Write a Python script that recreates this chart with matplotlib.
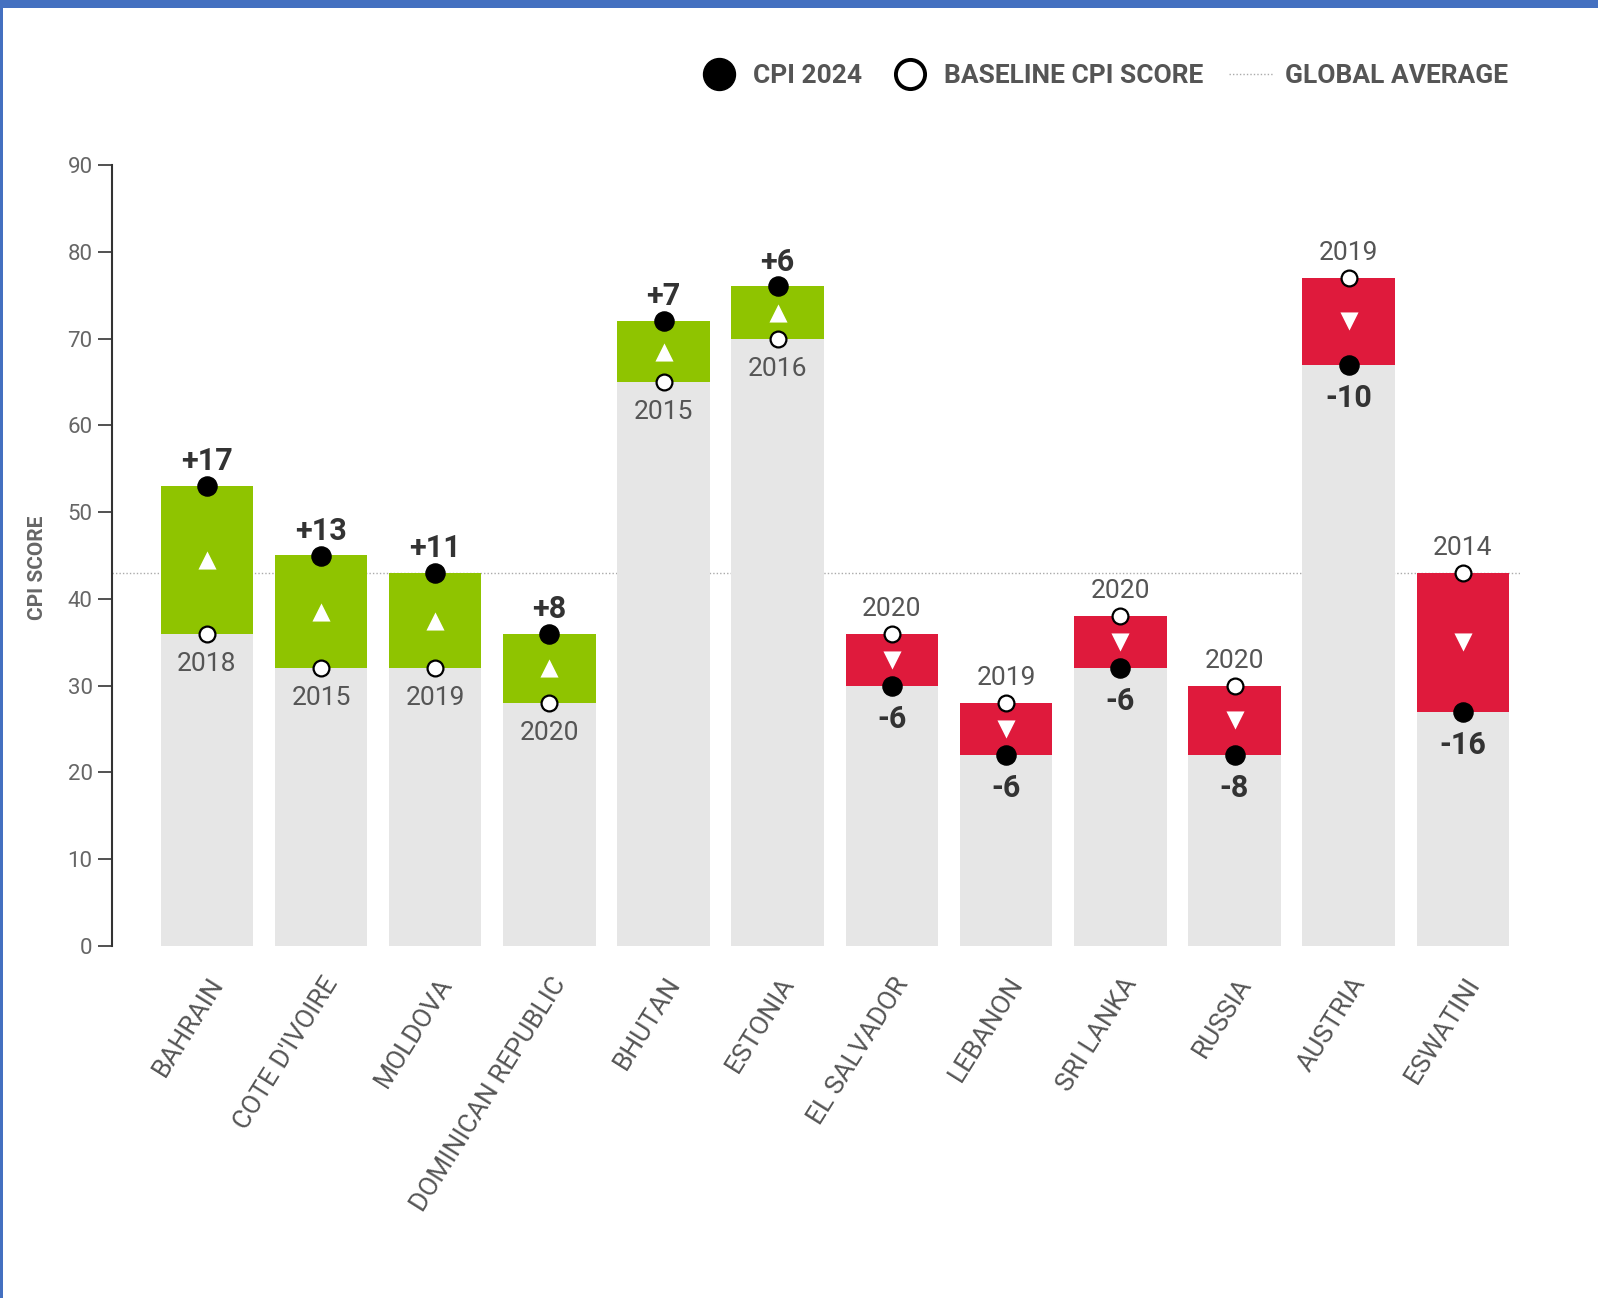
import matplotlib
matplotlib.use("Agg")
import matplotlib.pyplot as plt
from matplotlib.lines import Line2D
from matplotlib.patches import Rectangle
import numpy as np

countries = ["BAHRAIN", "COTE D'IVOIRE", "MOLDOVA", "DOMINICAN REPUBLIC", "BHUTAN", "ESTONIA",
             "EL SALVADOR", "LEBANON", "SRI LANKA", "RUSSIA", "AUSTRIA", "ESWATINI"]
cpi_2024 = [53, 45, 43, 36, 72, 76, 30, 22, 32, 22, 67, 27]
baseline = [36, 32, 32, 28, 65, 70, 36, 28, 38, 30, 77, 43]
baseline_year = ["2018", "2015", "2019", "2020", "2015", "2016",
                 "2020", "2019", "2020", "2020", "2019", "2014"]
global_average = 43
yticks = [0, 10, 20, 30, 40, 50, 60, 70, 80, 90]

GREEN = "#8fc400"
RED = "#df1a3c"
GRAY = "#e6e6e6"
TXT = "#555555"
COND = ["Roboto", "DejaVu Sans"]
NUM = ["Roboto", "DejaVu Sans"]

fig = plt.figure(figsize=(15.98, 12.98), dpi=100)
fig.patches.append(Rectangle((0, 0), 1, 1, transform=fig.transFigure,
                             facecolor="white", edgecolor="none", zorder=-10))
# blue frame (top and left)
fig.patches.append(Rectangle((0, 1 - 8 / 1298), 1, 8 / 1298, transform=fig.transFigure,
                             facecolor="#4470c0", edgecolor="none", zorder=10))
fig.patches.append(Rectangle((0, 0), 3 / 1598, 1, transform=fig.transFigure,
                             facecolor="#4470c0", edgecolor="none", zorder=10))

ax = fig.add_axes([112 / 1598, 1 - 946 / 1298, (1520 - 112) / 1598, (946 - 165) / 1298])
x = np.arange(len(countries))
w = 0.81
lo = np.minimum(cpi_2024, baseline)
hi = np.maximum(cpi_2024, baseline)
diff = np.array(cpi_2024) - np.array(baseline)
colors = [GREEN if d > 0 else RED for d in diff]

ax.bar(x, lo, width=w, color=GRAY, zorder=2)
ax.bar(x, hi - lo, bottom=lo, width=w, color=colors, zorder=2)
ax.axhline(global_average, color="#aaaaaa", lw=1, ls=(0, (1, 1.5)), zorder=1)

mid = (hi + lo) / 2
for i in range(len(x)):
    ax.scatter(x[i], mid[i], marker="^" if diff[i] > 0 else "v", s=170, color="white",
               zorder=4, linewidths=0)
ax.scatter(x, cpi_2024, s=190, color="black", zorder=5)
ax.scatter(x, baseline, s=130, facecolor="white", edgecolor="black", linewidths=1.6, zorder=5)

for i in range(len(x)):
    d = diff[i]
    lbl = f"+{d}" if d > 0 else f"{d}"
    if d > 0:
        ax.annotate(lbl, (x[i], cpi_2024[i]), xytext=(0, 11.5), textcoords="offset points",
                    ha="center", va="baseline", fontsize=22, fontweight="bold",
                    color="#333333", family=NUM, zorder=6)
        ax.annotate(baseline_year[i], (x[i], baseline[i]), xytext=(0, -13), textcoords="offset points",
                    ha="center", va="top", fontsize=19, color=TXT, family=NUM, zorder=6)
    else:
        ax.annotate(lbl, (x[i], cpi_2024[i]), xytext=(0, -13), textcoords="offset points",
                    ha="center", va="top", fontsize=22, fontweight="bold",
                    color="#333333", family=NUM, zorder=6)
        ax.annotate(baseline_year[i], (x[i], baseline[i]), xytext=(0, 13), textcoords="offset points",
                    ha="center", va="baseline", fontsize=19, color=TXT, family=NUM, zorder=6)

ax.set_xlim(-0.83, 11.5)
ax.set_ylim(0, 90)
ax.set_yticks(yticks)
ax.set_yticklabels([str(t) for t in yticks], fontsize=16, color="#666666", family=NUM)
ax.tick_params(axis="y", length=10, width=1.2, color="#333333", pad=4)
for s in ["top", "right", "bottom"]:
    ax.spines[s].set_visible(False)
ax.spines["left"].set_color("#333333")
ax.spines["left"].set_linewidth(1.5)
ax.set_xticks(x + 0.1)
ax.set_xticklabels(countries, rotation=58, ha="right", va="center", rotation_mode="anchor",
                   fontsize=19, color="#555555", family=COND)
ax.tick_params(axis="x", length=0, pad=24)
ax.set_ylabel("CPI SCORE", fontsize=15, color="#666666", family=COND, fontweight="bold")
ax.yaxis.set_label_coords(-0.046, 0.484)

handles = [
    Line2D([], [], marker="o", ls="none", markersize=23, color="black"),
    Line2D([], [], marker="o", ls="none", markersize=21, markerfacecolor="white",
           markeredgecolor="black", markeredgewidth=2.8),
    Line2D([], [], color="#aaaaaa", lw=1, ls=(0, (1, 1.5))),
]
leg = fig.legend(handles, ["CPI 2024", "BASELINE CPI SCORE", "GLOBAL AVERAGE"], ncol=3,
                 loc="center right", bbox_to_anchor=(1532 / 1598, 1 - 76 / 1298),
                 frameon=False, handlelength=1.7, handletextpad=0.45, columnspacing=0.95,
                 prop={"family": COND, "size": 19, "weight": "bold"})
for t in leg.get_texts():
    t.set_color("#555555")

fig.savefig("out.png", dpi=100)
